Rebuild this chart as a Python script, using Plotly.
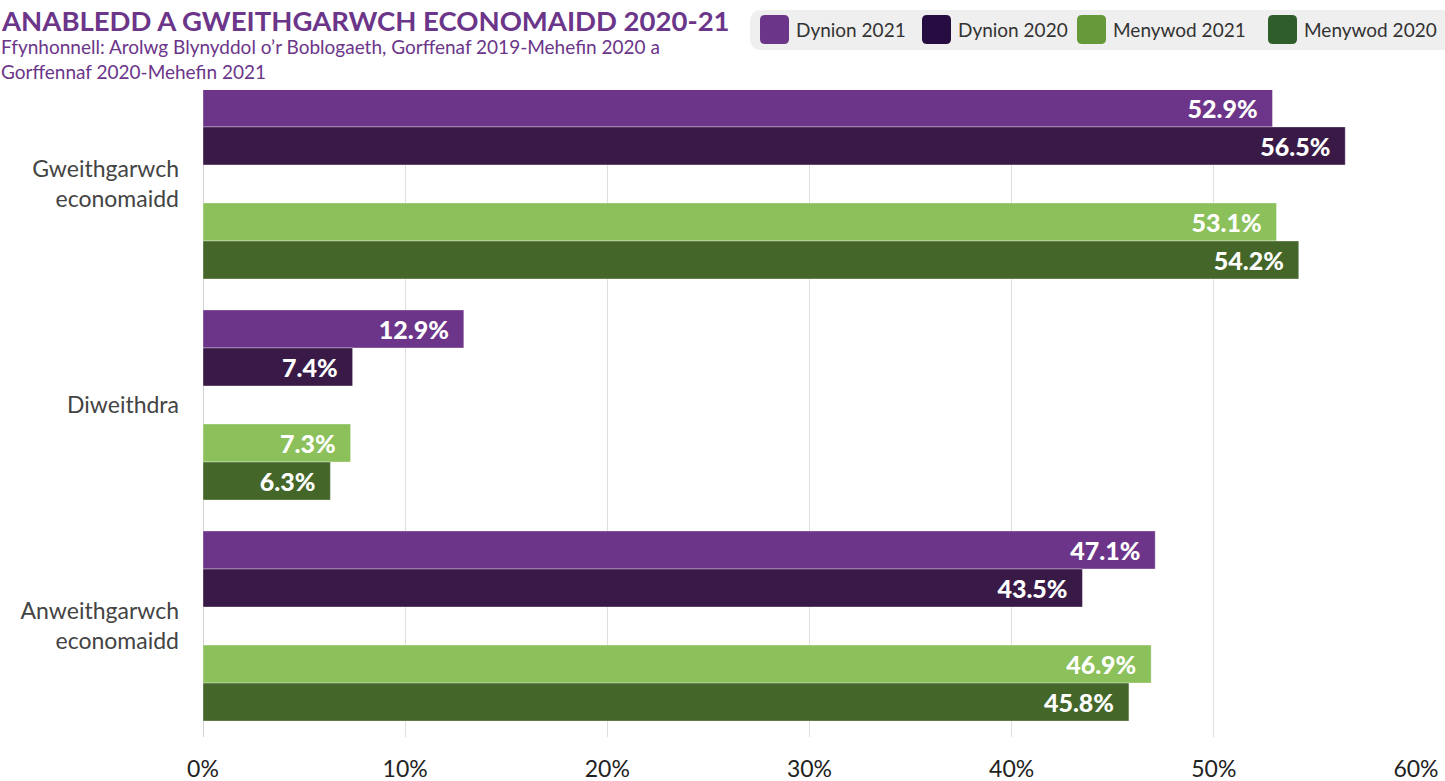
import plotly.graph_objects as go

# ---- data ----
categories = ["Gweithgarwch<br>economaidd", "Diweithdra", "Anweithgarwch<br>economaidd"]
series_names = ["Dynion 2021", "Dynion 2020", "Menywod 2021", "Menywod 2020"]
dynion_2021 = [52.9, 12.9, 47.1]
dynion_2020 = [56.5, 7.4, 43.5]
menywod_2021 = [53.1, 7.3, 46.9]
menywod_2020 = [54.2, 6.3, 45.8]
x_ticks = [0, 10, 20, 30, 40, 50, 60]
x_tick_labels = ["0%", "10%", "20%", "30%", "40%", "50%", "60%"]

title_text = "ANABLEDD A GWEITHGARWCH ECONOMAIDD 2020-21"
subtitle_lines = ["Ffynhonnell: Arolwg Blynyddol o’r Boblogaeth, Gorffenaf 2019-Mehefin 2020 a",
                  "Gorffennaf 2020-Mehefin 2021"]

bar_colors = ["#6c3589", "#391a47", "#8bc05a", "#446629"]
legend_colors = ["#6b3589", "#260c40", "#66993a", "#2f5e2a"]

# ---- layout geometry (pixels) ----
W, H = 1445, 781
L, R, T, B = 203, 29, 90, 44
PW, PH = W - L - R, H - T - B


def px_x(px):
    return (px - L) / PW


def px_y(py):
    return (H - B - py) / PH


FONT = "Lato, 'Open Sans', sans-serif"

fig = go.Figure()

values = [dynion_2021, dynion_2020, None, menywod_2021, menywod_2020]
names = [series_names[0], series_names[1], None, series_names[2], series_names[3]]
colors = [bar_colors[0], bar_colors[1], None, bar_colors[2], bar_colors[3]]

for vals, name, col in zip(values, names, colors):
    if vals is None:
        # empty spacer slot between the Dynion and Menywod pairs
        fig.add_trace(go.Bar(
            y=categories, x=[None] * len(categories), orientation="h",
            showlegend=False, hoverinfo="skip", marker_color="rgba(0,0,0,0)"))
        continue
    fig.add_trace(go.Bar(
        y=categories, x=vals, orientation="h", name=name,
        marker=dict(color=col, line=dict(color="rgba(255,255,255,0.35)", width=1)),
        texttemplate="%{x:.1f}%\u00a0\u00a0",
        textposition="inside", insidetextanchor="end",
        textfont=dict(family=FONT, size=25, color="white", weight=900),
        constraintext="none",
        showlegend=False,
    ))

fig.update_layout(
    width=W, height=H,
    margin=dict(l=L, r=R, t=T, b=B, pad=0, autoexpand=False),
    paper_bgcolor="white", plot_bgcolor="white",
    barmode="group", bargap=0.14, bargroupgap=0,
    showlegend=False,
    font=dict(family=FONT, color="#333333"),
    xaxis=dict(
        range=[0, 60], tickvals=x_ticks, ticktext=x_tick_labels,
        showgrid=True, gridcolor="#dedede", gridwidth=1,
        zeroline=True, zerolinecolor="#d0d0d0", zerolinewidth=1,
        showline=False, ticks="", ticklabelstandoff=16, automargin=False,
        tickfont=dict(family=FONT, size=23, color="#222222"),
        fixedrange=True,
    ),
    yaxis=dict(
        type="category", range=[2.502, -0.425],
        showgrid=False, zeroline=False, showline=False, ticks="",
        ticklabelstandoff=23, automargin=False,
        tickfont=dict(family=FONT, size=23, color="#444444"),
        fixedrange=True,
    ),
)

# ---- title & subtitle ----
fig.add_annotation(
    xref="paper", yref="paper", x=px_x(0), y=px_y(20), xanchor="left", yanchor="middle",
    text=f"<b>{title_text}</b>", showarrow=False, align="left", borderpad=0,
    font=dict(family=FONT, size=27.5, color="#6b3589"))
fig.add_annotation(
    xref="paper", yref="paper", x=px_x(0), y=px_y(59), xanchor="left", yanchor="middle",
    text="<br>".join(subtitle_lines), showarrow=False, align="left", borderpad=0,
    font=dict(family=FONT, size=19, color="#6b3589"))


# ---- custom legend ----
def rounded_rect(x0, y0, x1, y1, r):
    # coordinates in pixels -> path in paper coords
    pts = [
        ("M", (x0 + r, y0)), ("L", (x1 - r, y0)), ("Q", (x1, y0), (x1, y0 + r)),
        ("L", (x1, y1 - r)), ("Q", (x1, y1), (x1 - r, y1)), ("L", (x0 + r, y1)),
        ("Q", (x0, y1), (x0, y1 - r)), ("L", (x0, y0 + r)), ("Q", (x0, y0), (x0 + r, y0)),
    ]
    s = ""
    for item in pts:
        cmd = item[0]
        coords = " ".join(f"{px_x(p[0]):.5f},{px_y(p[1]):.5f}" for p in item[1:])
        s += f"{cmd}{coords} "
    return s + "Z"


fig.add_shape(type="path", xref="paper", yref="paper",
              path=rounded_rect(750, 10, 1470, 50, 12),
              fillcolor="#efefef", line=dict(width=0), layer="above")

swatch_left = [760, 922, 1077, 1268]
for name, col, sx in zip(series_names, legend_colors, swatch_left):
    fig.add_shape(type="path", xref="paper", yref="paper",
                  path=rounded_rect(sx, 15, sx + 29, 44, 5),
                  fillcolor=col, line=dict(width=0), layer="above")
    fig.add_annotation(xref="paper", yref="paper", x=px_x(sx + 34), y=px_y(29.5),
                       xanchor="left", yanchor="middle", text=name, showarrow=False,
                       font=dict(family=FONT, size=19, color="#333333"))

fig.write_html("out.html", config={"displayModeBar": False},
               post_script="document.body.style.margin='0';")
